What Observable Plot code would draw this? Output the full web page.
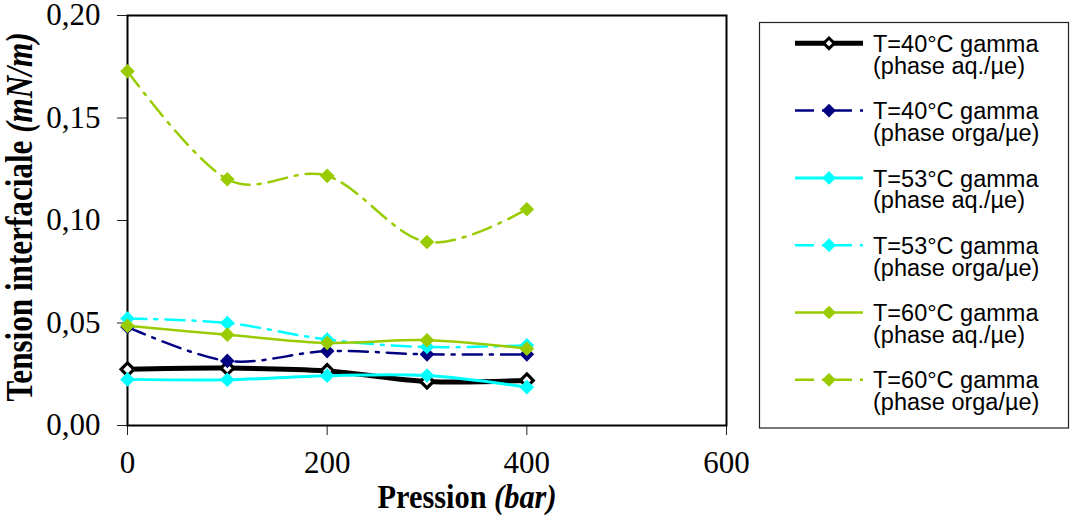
<!DOCTYPE html>
<html><head><meta charset="utf-8">
<script src="https://cdn.jsdelivr.net/npm/d3@7"></script>
<script src="https://cdn.jsdelivr.net/npm/@observablehq/plot@0.6"></script>
<style>body{margin:0;background:#fff}</style>
</head><body><div id="chart"></div>
<script>
// ---- data ----
const pressure = [0, 100, 200, 300, 400];
const gamma40aq  = [0.0274, 0.0280, 0.0266, 0.0215, 0.0220];
const gamma40org = [0.0481, 0.0315, 0.0363, 0.0347, 0.0347];
const gamma53aq  = [0.0225, 0.0223, 0.0243, 0.0244, 0.0187];
const gamma53org = [0.0522, 0.0500, 0.0419, 0.0383, 0.0391];
const gamma60aq  = [0.0486, 0.0443, 0.0403, 0.0416, 0.0375];
const gamma60org = [0.1728, 0.1201, 0.1218, 0.0895, 0.1055];
const seriesValues = [gamma40aq, gamma40org, gamma53aq, gamma53org, gamma60aq, gamma60org];
const seriesLine1 = ["T=40°C gamma", "T=40°C gamma", "T=53°C gamma", "T=53°C gamma", "T=60°C gamma", "T=60°C gamma"];
const seriesLine2 = ["(phase aq./µe)", "(phase orga/µe)", "(phase aq./µe)", "(phase orga/µe)", "(phase aq./µe)", "(phase orga/µe)"];
const yTicks = [0, 0.05, 0.10, 0.15, 0.20];
const xTicks = [0, 200, 400, 600];
const xTitle = "Pression ";
const xTitleUnit = "(bar)";
const yTitle = "Tension interfaciale ";
const yTitleUnit = "(mN/m)";

// ---- styles ----
const seriesColors = ["#000000", "#000080", "#00FFFF", "#00FFFF", "#99CC00", "#99CC00"];
const seriesDash = [null, "19,8,3,8", null, "19,8,3,8", null, "19,8,3,8"];
const seriesWidth = [5, 2.5, 3, 2.5, 2.5, 2.5];

const table = [];
seriesValues.forEach((vals, s) => vals.forEach((v, k) => table.push({s, p: pressure[k], v})));

const marks = [
  Plot.axisY({ticks: yTicks, tickSize: 10, tickPadding: 17, stroke: "#222",
    tickFormat: d => d.toFixed(2).replace(".", ","), label: null}),
  Plot.axisX({ticks: xTicks, tickSize: 10, tickPadding: 15, stroke: "#222", label: null}),
  Plot.frame({stroke: "black", strokeWidth: 2})
];
seriesValues.forEach((_, s) => {
  const data = table.filter(d => d.s === s);
  const lineOpts = {x: "p", y: "v", stroke: seriesColors[s], strokeWidth: seriesWidth[s], curve: "cardinal"};
  if (seriesDash[s]) lineOpts.strokeDasharray = seriesDash[s];
  marks.push(Plot.line(data, lineOpts));
  if (s === 0) {
    marks.push(Plot.dot(data, {x: "p", y: "v", symbol: "diamond2", r: 5.8, fill: "white", stroke: "black", strokeWidth: 3.2}));
  } else {
    marks.push(Plot.dot(data, {x: "p", y: "v", symbol: "diamond2", r: 6.6, fill: seriesColors[s], stroke: "none"}));
  }
});

const plot = Plot.plot({
  width: 1077, height: 515,
  marginLeft: 127, marginRight: 351, marginTop: 15, marginBottom: 90,
  x: {domain: [0, 600]},
  y: {domain: [0, 0.2]},
  style: {fontFamily: "'Liberation Serif', 'Times New Roman', serif", fontSize: "31px", color: "black", background: "white", overflow: "visible"},
  marks
});
document.getElementById("chart").appendChild(plot);

const svg = d3.select(plot);
// axis titles
const xt = svg.append("text")
  .attr("transform", "translate(467,508) scale(0.92,1)")
  .attr("text-anchor", "middle")
  .attr("font-family", "'Liberation Serif', serif").attr("font-size", 33).attr("font-weight", "bold")
  .attr("fill", "black");
xt.append("tspan").text(xTitle);
xt.append("tspan").attr("font-style", "italic").text(xTitleUnit);

const yt = svg.append("text")
  .attr("transform", "translate(32,217) rotate(-90) scale(0.82,1)")
  .attr("text-anchor", "middle")
  .attr("font-family", "'Liberation Serif', serif").attr("font-size", 38).attr("font-weight", "bold")
  .attr("fill", "black");
yt.append("tspan").text(yTitle);
yt.append("tspan").attr("font-style", "italic").text(yTitleUnit);

// legend
const lg = svg.append("g").attr("text-anchor", "start");
lg.append("rect").attr("x", 759.5).attr("y", 22.5).attr("width", 309).attr("height", 405.5)
  .attr("fill", "white").attr("stroke", "#222").attr("stroke-width", 1.2);
const diamond = d3.symbol(d3.symbolDiamond2, 120);
const diamondSmall = d3.symbol(d3.symbolDiamond2, 70);
seriesLine1.forEach((t, i) => {
  const y = 43.3 + i * 67.3;
  const ln = lg.append("line").attr("x1", 795).attr("x2", 863).attr("y1", y).attr("y2", y)
    .attr("stroke", seriesColors[i]).attr("stroke-width", seriesWidth[i]);
  if (seriesDash[i]) ln.attr("stroke-dasharray", seriesDash[i]);
  if (i === 0) {
    lg.append("path").attr("d", diamondSmall()).attr("transform", `translate(829,${y})`)
      .attr("fill", "white").attr("stroke", "black").attr("stroke-width", 3);
  } else {
    lg.append("path").attr("d", diamond()).attr("transform", `translate(829,${y})`)
      .attr("fill", seriesColors[i]);
  }
  const tx = lg.append("text").attr("text-anchor", "start")
    .attr("font-family", "'Liberation Sans', Arial, sans-serif")
    .attr("font-size", 23.5).attr("fill", "black");
  tx.append("tspan").attr("x", 873).attr("y", y + 8.6).text(t);
  tx.append("tspan").attr("x", 873).attr("y", y + 30.3).text(seriesLine2[i]);
});
</script>
</body></html>
